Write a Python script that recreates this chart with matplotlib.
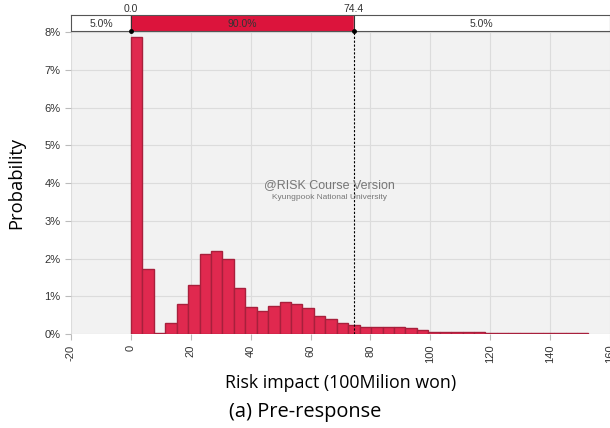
import numpy as np
import matplotlib
matplotlib.use("Agg")
import matplotlib.pyplot as plt

# histogram data (percent per bin)
bin_start = 0.0
bin_width = 3.82
probs = [7.86, 1.71, 0.03, 0.28, 0.80, 1.31, 2.13, 2.20, 1.98, 1.21,
         0.72, 0.60, 0.73, 0.86, 0.79, 0.69, 0.48, 0.39, 0.28, 0.24,
         0.19, 0.19, 0.19, 0.18, 0.15, 0.11, 0.06, 0.06, 0.06, 0.06,
         0.06, 0.03, 0.02, 0.03, 0.02, 0.03, 0.02, 0.02, 0.02, 0.02]

lo_val, hi_val = 0.0, 74.4
band_labels = ["5.0%", "90.0%", "5.0%"]
x_ticks = [-20, 0, 20, 40, 60, 80, 100, 120, 140, 160]
y_ticks = [0, 1, 2, 3, 4, 5, 6, 7, 8]

left_edges = bin_start + bin_width * np.arange(len(probs))

fig = plt.figure(figsize=(6.1, 4.28), dpi=100)
ax = fig.add_axes([71/610, 1-334/428, 1-71/610, 303/428])
ax.set_facecolor("#f2f2f2")
ax.bar(left_edges, probs, width=bin_width, align="edge",
       color="#e0294f", edgecolor="#a8203c", linewidth=1.0, zorder=3)
ax.set_xlim(-20, 160)
ax.set_ylim(0, 8.03)
ax.set_xticks(x_ticks)
ax.set_xticklabels([str(t) for t in x_ticks], rotation=90, fontsize=8,
                   family="Liberation Sans", color="#333333")
ax.set_yticks(y_ticks)
ax.set_yticklabels([f"{t}%" for t in y_ticks], fontsize=8,
                   family="Liberation Sans", color="#333333")
ax.grid(True, color="#dcdcdc", linewidth=0.8, zorder=0)
for s in ax.spines.values():
    s.set_visible(False)
ax.tick_params(length=4, color="#bbbbbb", width=0.8)
ax.axvline(hi_val, color="black", linestyle=(0, (2, 1.5)), linewidth=0.8, zorder=4)
ax.set_ylabel("Probability", fontsize=13.2, family="Open Sans", labelpad=14)
ax.set_xlabel("Risk impact (100Milion won)", fontsize=12.8, family="Open Sans", labelpad=8)

# watermark
ax.text(0.479, 0.48, "@RISK Course Version", transform=ax.transAxes, ha="center",
        fontsize=9, color="#777777", family="Liberation Sans", zorder=5)
ax.text(0.479, 0.445, "Kyungpook National University", transform=ax.transAxes,
        ha="center", fontsize=6, color="#777777", family="Liberation Sans", zorder=5)

# delimiter band on top
bx = fig.add_axes([71/610, 1-31/428, 1-71/610, 16/428], sharex=ax)
bx.set_ylim(0, 1)
bx.set_yticks([])
bx.tick_params(axis="x", length=0, labelbottom=False)
bx.axvspan(-20, lo_val, color="white")
bx.axvspan(lo_val, hi_val, color="#dc143c")
bx.axvspan(hi_val, 160, color="white")
for s in bx.spines.values():
    s.set_color("#555555")
    s.set_linewidth(0.8)
bx.axvline(lo_val, color="#333333", linewidth=0.8)
bx.axvline(hi_val, color="#333333", linewidth=0.8)
mids = [(-20 + lo_val) / 2, (lo_val + hi_val) / 2, (hi_val + 160) / 2]
for m, lab in zip(mids, band_labels):
    bx.text(m, 0.45, lab, ha="center", va="center", fontsize=7.5,
            family="Liberation Sans", color="#333333")
for v in [lo_val, hi_val]:
    bx.text(v, 1.05, f"{v:.1f}", ha="center", va="bottom", fontsize=7.5,
            family="Liberation Sans", color="#333333", clip_on=False)
    bx.plot([v], [0], "o", color="black", markersize=2.5, clip_on=False, zorder=5)

fig.text(0.5, 1-412/428, "(a) Pre-response", ha="center", va="center",
         fontsize=14.4, family="Open Sans")

fig.savefig("out.png", dpi=100)
